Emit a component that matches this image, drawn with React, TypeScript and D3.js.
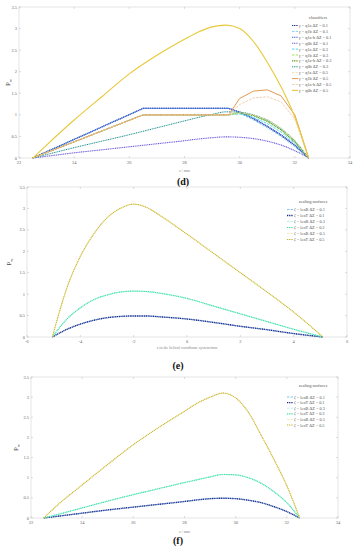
import React from 'react';
import * as d3 from 'd3';

const FONT = '"Liberation Serif", "DejaVu Serif", serif';

// ---- (d) classifiers ----
const dSmoothS = [22.5, 23, 24, 25, 26, 27, 28, 28.5, 29, 29.5, 30, 30.5, 31, 31.5, 32, 32.5];
const dKinkS = [22.5, 26.5, 29.6, 30, 30.5, 31, 31.5, 32, 32.5];

const q1a01 = [0, 1.15, 1.15, 1.06, 0.91, 0.73, 0.53, 0.29, 0];
const q1b01 = [0, 1.15, 1.15, 1.04, 0.88, 0.7, 0.5, 0.26, 0];
const q1ab01 = [0, 1.15, 1.15, 1.07, 0.92, 0.74, 0.54, 0.3, 0];
const q0b01 = [0, 0.04, 0.12, 0.19, 0.26, 0.33, 0.4, 0.44, 0.47, 0.49, 0.48, 0.45, 0.39, 0.3, 0.17, 0];
const q1a03 = [0, 1.0, 1.0, 1.02, 0.94, 0.8, 0.6, 0.34, 0];
const q1b03 = [0, 1.0, 1.0, 1.06, 0.99, 0.86, 0.66, 0.38, 0];
const q1ab03 = [0, 1.0, 1.0, 1.05, 0.98, 0.85, 0.65, 0.37, 0];
const q0b03 = [0, 0.08, 0.24, 0.39, 0.54, 0.7, 0.86, 0.94, 1.01, 1.07, 1.06, 1.0, 0.88, 0.68, 0.4, 0];
const q1a05 = [0, 1.0, 1.0, 1.05, 1.0, 0.9, 0.7, 0.42, 0];
const q1b05 = [0, 1.0, 1.0, 1.38, 1.55, 1.58, 1.44, 1.0, 0];
const q1ab05 = [0, 1.0, 1.0, 1.24, 1.39, 1.42, 1.3, 0.9, 0];
const q0b05 = [0, 0.3, 0.88, 1.42, 1.95, 2.38, 2.75, 2.92, 3.04, 3.08, 3.0, 2.7, 2.22, 1.65, 0.95, 0];

// ---- (e) sealing surfaces, helical coordinate ----
const eS = [-5.05, -4.5, -4, -3.5, -3, -2.5, -2, -1.5, -1, 0, 1, 2, 3, 4, 5.1];
const e01 = [0, 0.18, 0.3, 0.39, 0.45, 0.48, 0.49, 0.49, 0.47, 0.42, 0.34, 0.25, 0.17, 0.08, 0];
const e03 = [0, 0.42, 0.68, 0.87, 0.98, 1.05, 1.07, 1.06, 1.02, 0.9, 0.72, 0.54, 0.36, 0.18, 0];
const e05 = [0, 1.15, 1.88, 2.4, 2.78, 3.0, 3.1, 3.02, 2.83, 2.4, 1.95, 1.5, 1.05, 0.58, 0];

// ---- (f) sealing surfaces ----
const fS = [22.5, 23, 24, 25, 26, 27, 28, 28.5, 29, 29.5, 30, 30.5, 31, 31.5, 32, 32.5];
const f01 = [0, 0.04, 0.12, 0.2, 0.27, 0.34, 0.41, 0.45, 0.48, 0.49, 0.48, 0.44, 0.38, 0.28, 0.16, 0];
const f03 = [0, 0.08, 0.25, 0.42, 0.58, 0.73, 0.88, 0.95, 1.02, 1.08, 1.07, 1.0, 0.86, 0.65, 0.38, 0];
const f05 = [0, 0.3, 0.82, 1.33, 1.82, 2.25, 2.65, 2.85, 3.0, 3.1, 2.98, 2.62, 2.05, 1.45, 0.8, 0];

const yTicks = [0, 0.5, 1, 1.5, 2, 2.5, 3, 3.5];
const sTicks = [22, 24, 26, 28, 30, 32, 34];
const helixTicks = [-6, -4, -2, 0, 2, 4, 6];

const MARK = '1.1 0.7';
const DASH = '2.5 1.2';

const sealing = (s, a, b, c) => [
  { label: 'lenB', dz: '0.1', color: '#5fb8e8', dash: DASH, w: 0.8, xs: s, ys: a },
  { label: 'lenT', dz: '0.1', color: '#1e2a8a', dash: MARK, w: 1.4, xs: s, ys: a },
  { label: 'lenB', dz: '0.3', color: '#9ff0e6', dash: DASH, w: 0.8, xs: s, ys: b },
  { label: 'lenT', dz: '0.3', color: '#3fe0a8', dash: MARK, w: 1.2, xs: s, ys: b },
  { label: 'lenB', dz: '0.5', color: '#f0e6a0', dash: DASH, w: 0.8, xs: s, ys: c },
  { label: 'lenT', dz: '0.5', color: '#c8b428', dash: MARK, w: 1.1, xs: s, ys: c },
];

const panels = [
  {
    key: 'd', left: 19, right: 350, top: 7, bottom: 158, xDomain: [22, 34], xTicks: sTicks,
    xLabel: 's / mm', xLabelY: 172, caption: '(d)', capX: 183, capY: 185, yLabelX: 10,
    legend: { title: 'classifiers', x: 292, titleY: 19, y0: 25.5, dy: 5.9, sym: 'γ' },
    series: [
      { label: 'q1a', dz: '0.1', color: '#1e2a8a', dash: MARK, w: 1.2, xs: dKinkS, ys: q1a01 },
      { label: 'q1b', dz: '0.1', color: '#7cc8f2', dash: DASH, w: 0.9, xs: dKinkS, ys: q1b01 },
      { label: 'q1a-b', dz: '0.1', color: '#3a5ed8', dash: MARK, w: 1.1, xs: dKinkS, ys: q1ab01 },
      { label: 'q0b', dz: '0.1', color: '#6a5ad8', dash: MARK, w: 1.1, xs: dSmoothS, ys: q0b01, smooth: true },
      { label: 'q1a', dz: '0.3', color: '#3fd8e8', dash: DASH, w: 0.9, xs: dKinkS, ys: q1a03 },
      { label: 'q1b', dz: '0.3', color: '#98e048', dash: DASH, w: 0.9, xs: dKinkS, ys: q1b03 },
      { label: 'q1a-b', dz: '0.3', color: '#5c9a1c', dash: MARK, w: 1.1, xs: dKinkS, ys: q1ab03 },
      { label: 'q0b', dz: '0.3', color: '#1c8c8c', dash: MARK, w: 1.0, xs: dSmoothS, ys: q0b03, smooth: true },
      { label: 'q1a', dz: '0.5', color: '#f2dca8', dash: DASH, w: 0.9, xs: dKinkS, ys: q1a05 },
      { label: 'q1b', dz: '0.5', color: '#e39a50', dash: '', w: 1.0, xs: dKinkS, ys: q1b05 },
      { label: 'q1a-b', dz: '0.5', color: '#f4c8a4', dash: DASH, w: 0.9, xs: dKinkS, ys: q1ab05 },
      { label: 'q0b', dz: '0.5', color: '#e8c838', dash: '', w: 1.1, xs: dSmoothS, ys: q0b05, smooth: true },
    ],
  },
  {
    key: 'e', left: 27, right: 347, top: 187, bottom: 337, xDomain: [-6, 6], xTicks: helixTicks,
    xLabel: 's in the helical coordinate system/mm', xLabelY: 349, caption: '(e)', capX: 178, capY: 369, yLabelX: 11,
    legend: { title: 'sealing surfaces', x: 287, titleY: 203, y0: 209.5, dy: 6, sym: 'ζ' },
    series: sealing(eS, e01, e03, e05).map((d) => ({ ...d, smooth: true })),
  },
  {
    key: 'f', left: 31, right: 338, top: 377, bottom: 518, xDomain: [22, 34], xTicks: sTicks,
    xLabel: 's / mm', xLabelY: 533, caption: '(f)', capX: 178, capY: 544, yLabelX: 18,
    legend: { title: 'sealing surfaces', x: 287, titleY: 387, y0: 397, dy: 5.6, sym: 'ζ' },
    series: sealing(fS, f01, f03, f05).map((d) => ({ ...d, smooth: true })),
  },
];

function Panel({ p }) {
  const x = d3.scaleLinear().domain(p.xDomain).range([p.left, p.right]);
  const y = d3.scaleLinear().domain([0, 3.5]).range([p.bottom, p.top]);
  const lg = p.legend;

  return (
    <g>
      <rect x={p.left} y={p.top} width={p.right - p.left} height={p.bottom - p.top}
        fill="#fff" stroke="#d4d4d4" strokeWidth={0.6} />
      {p.xTicks.map((t) => (
        <g key={'x' + t}>
          <line x1={x(t)} x2={x(t)} y1={p.bottom} y2={p.bottom - 2} stroke="#bbb" strokeWidth={0.5} />
          <line x1={x(t)} x2={x(t)} y1={p.top} y2={p.top + 2} stroke="#bbb" strokeWidth={0.5} />
          <text x={x(t)} y={p.bottom + 6} fontSize={4.5} fill="#666" textAnchor="middle">{t}</text>
        </g>
      ))}
      {yTicks.map((t) => (
        <g key={'y' + t}>
          <line x1={p.left} x2={p.left + 2} y1={y(t)} y2={y(t)} stroke="#bbb" strokeWidth={0.5} />
          <line x1={p.right} x2={p.right - 2} y1={y(t)} y2={y(t)} stroke="#bbb" strokeWidth={0.5} />
          <text x={p.left - 2} y={y(t) + 1.5} fontSize={4.5} fill="#666" textAnchor="end">{t}</text>
        </g>
      ))}
      {p.series.map((s, i) => {
        const line = d3.line()
          .x((_, j) => x(s.xs[j]))
          .y((v) => y(v))
          .curve(s.smooth ? d3.curveMonotoneX : d3.curveLinear);
        return (
          <path key={i} d={line(s.ys)} fill="none" stroke={s.color}
            strokeWidth={s.w} strokeDasharray={s.dash || undefined} />
        );
      })}
      <text x={p.legend.x + 26} y={lg.titleY} fontSize={4.5} fill="#555" textAnchor="middle">{lg.title}</text>
      {p.series.map((s, i) => {
        const ly = lg.y0 + i * lg.dy;
        return (
          <g key={'l' + i}>
            <line x1={lg.x} x2={lg.x + 6} y1={ly} y2={ly} stroke={s.color} strokeWidth={s.w}
              strokeDasharray={s.dash || undefined} />
            <text x={lg.x + 7} y={ly + 1.5} fontSize={4.3} fill="#555">
              <tspan fontStyle="italic">{lg.sym}</tspan>{` = ${s.label} ΔZ = ${s.dz}`}
            </text>
          </g>
        );
      })}
      <text transform={`translate(${p.yLabelX},${(p.top + p.bottom) / 2}) rotate(-90)`}
        fontSize={7} fill="#444" textAnchor="middle">
        P<tspan fontSize={4.5} dy={1.5}>w</tspan>
      </text>
      <text x={(p.left + p.right) / 2} y={p.xLabelY} fontSize={4} fill="#888" textAnchor="middle">{p.xLabel}</text>
      <text x={p.capX} y={p.capY} fontSize={10} fontWeight="bold" fill="#111" textAnchor="middle">{p.caption}</text>
    </g>
  );
}

export default function App() {
  return (
    <svg width={354} height={550} viewBox="0 0 354 550"
      style={{ position: 'absolute', left: 0, top: 0, background: '#fff' }} fontFamily={FONT}>
      <rect width={354} height={550} fill="#fff" />
      {panels.map((p) => <Panel key={p.key} p={p} />)}
    </svg>
  );
}
